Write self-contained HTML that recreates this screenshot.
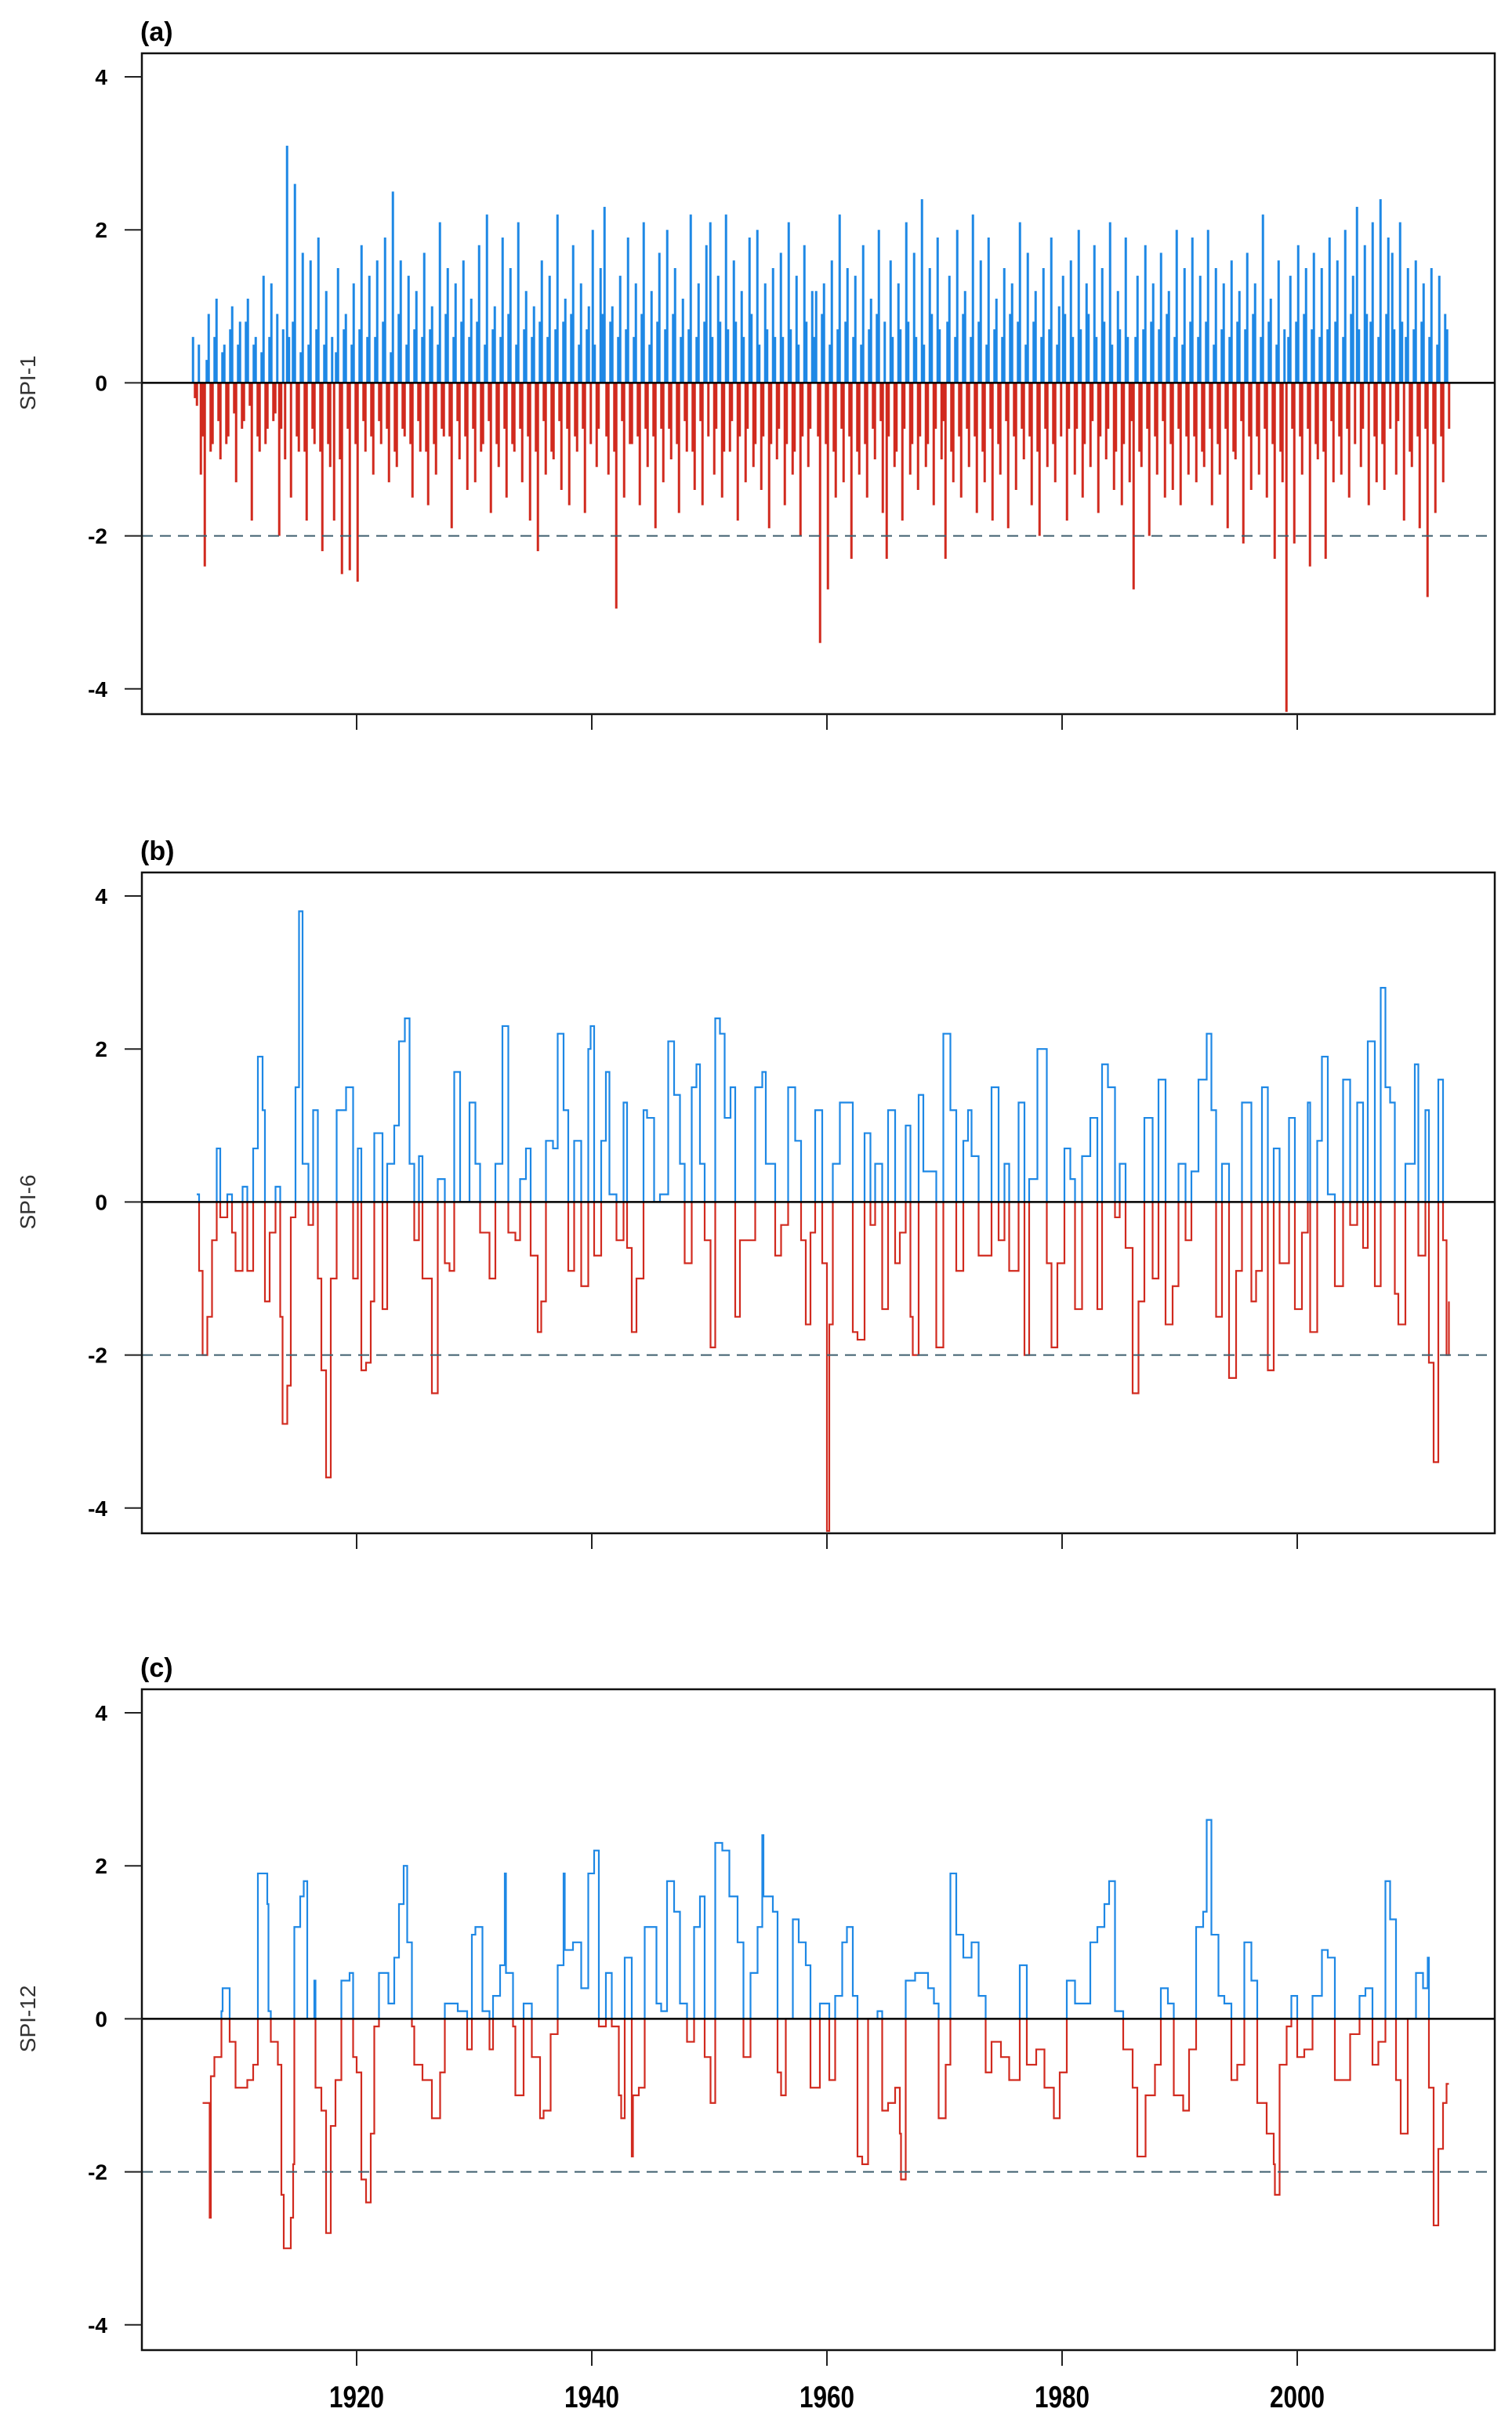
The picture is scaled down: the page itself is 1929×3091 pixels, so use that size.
<!DOCTYPE html>
<html><head><meta charset="utf-8">
<style>
html,body{margin:0;padding:0;background:#fff;}
svg{display:block;font-family:"Liberation Sans",Arial,sans-serif;}
</style></head>
<body>
<svg id="chart" width="1929" height="3091" viewBox="0 0 1929 3091" xmlns="http://www.w3.org/2000/svg"></svg>
<script>
// ---------- data ----------
const yTicks = [4, 2, 0, -2, -4];
const xTicks = [1920, 1940, 1960, 1980, 2000];
const panelLabels = ["(a)", "(b)", "(c)"];
const axisTitles = ["SPI-1", "SPI-6", "SPI-12"];

// SPI-1: three values per year starting 1906.0 (main samples)
const spi1Start = 1906.0;
const spi1Values = [
0.6,-0.3,-1.2, -2.4,0.9,-0.8, 1.1,-1.0,0.5, -0.7,1.0,-1.3, 0.8,-0.5,1.1,
-1.8,0.6,-0.9, 1.4,-0.6,1.3, -0.4,-2.0,0.7, 3.1,-1.5,2.6, -0.9,1.7,-1.8,
1.6,-0.8,1.9, -2.2,1.2,-1.1, -1.8,1.5,-2.5, 0.9,-2.45,1.3, -2.6,1.8,-0.9,
1.4,-1.2,1.6, -0.8,1.9,-1.3, 2.5,-1.1,1.6, -0.7,1.4,-1.5, 1.2,-0.9,1.7,
-1.6,1.0,-1.2, 2.1,-0.7,1.5, -1.9,1.3,-1.0, 1.6,-1.4,1.1, -1.3,1.8,-0.8,
2.2,-1.7,1.0, -1.1,1.9,-1.5, 1.5,-0.9,2.1, -1.3,1.2,-1.8, 1.0,-2.2,1.6,
-1.2,1.4,-1.0, 2.2,-1.4,1.1, -1.6,1.8,-0.9, 1.3,-1.7,1.0, 2.0,-1.1,1.5,
2.3,-1.2,1.0, -2.95,1.4,-1.5, 1.9,-0.8,1.3, -1.6,2.1,-1.1, 1.2,-1.9,1.7,
-1.3,2.0,-1.0, 1.5,-1.7,1.1, -0.9,2.2,-1.4, 1.3,-1.6,1.8, 2.1,-1.2,1.4,
-1.5,2.2,-0.9, 1.6,-1.8,1.2, -1.3,1.9,-1.1, 2.0,-1.4,1.3, -1.9,1.5,-1.0,
1.7,-1.6,2.1, -1.2,1.4,-2.0, 1.8,-1.1,1.2, 1.2,-3.4,1.3, -2.7,1.6,-1.5,
2.2,-1.3,1.5, -2.3,1.4,-1.2, 1.8,-1.5,1.1, -1.0,2.0,-1.7, -2.3,1.6,-1.1,
1.3,-1.8,2.1, -1.2,1.7,-1.4, 2.4,-1.1,1.5, -1.6,1.9,-1.0, -2.3,1.4,-1.3,
2.0,-1.5,1.2, -1.1,2.2,-1.7, 1.6,-1.3,1.9, -1.8,1.1,-1.2, 1.5,-1.9,1.3,
-1.4,2.1,-1.0, 1.7,-1.6,1.2, -2.0,1.5,-1.1, 1.9,-1.3,1.0, 1.4,-1.8,1.6,
-1.2,2.0,-1.5, 1.3,-1.1,1.8, -1.7,1.5,-1.0, 2.1,-1.4,1.2, -1.6,1.9,-1.3,
-2.7,1.4,-1.1, 1.8,-2.0,1.3, -1.2,1.7,-1.5, 1.2,-1.4,2.0, -1.6,1.5,-1.2,
1.9,-1.3,1.4, -1.1,2.0,-1.6, 1.5,-1.2,1.3, -1.9,1.6,-1.0, 1.2,-2.1,1.7,
-1.4,1.3,-1.2, 2.2,-1.5,1.1, -2.3,1.6,-1.3, -4.3,1.4,-2.1, 1.8,-1.2,1.5,
-2.4,1.7,-1.0, 1.5,-2.3,1.9, -1.3,1.6,-1.2, 2.0,-1.5,1.4, 2.3,-1.1,1.8,
-1.6,2.1,-1.3, 2.4,-1.4,1.9, 1.7,-1.2,2.1, -1.8,1.5,-1.1, 1.6,-1.9,1.3,
-2.8,1.5,-1.7, 1.4,-1.3,0.7
];
// SPI-1: in-between samples (moderate months), three per year
const spi1Between = [
-0.2,0.5,-0.7, 0.3,-0.9,0.6, -0.5,0.4,-0.8, 0.7,-0.4,0.5, -0.6,0.8,-0.3,
0.5,-0.7,0.4, -0.8,0.6,-0.5, 0.9,-0.6,-1.0, 0.6,0.8,-0.7, 0.4,-0.9,0.5,
-0.6,0.7,-0.9, 0.5,-0.8,0.6, 0.4,-1.0,0.7, -0.6,0.5,-0.8, 0.7,-0.5,0.6,
-0.7,0.6,-0.5, 0.8,-0.6,0.4, -0.9,0.9,-0.6, 0.5,-0.8,0.7, -0.5,0.6,-0.9,
0.7,-0.8,0.5, -0.6,0.9,-0.7, 0.6,-0.5,0.8, -0.7,0.6,-0.6, 0.8,-0.9,0.5,
-0.5,0.7,-0.8, 0.6,-0.6,0.9, -0.8,0.5,-0.6, 0.7,-0.7,0.6, -0.9,0.8,-0.5,
0.6,-0.9,0.7, -0.5,0.8,-0.6, 0.9,-0.7,0.5, -0.6,0.7,-0.8, 0.5,-0.6,0.9,
-0.7,0.8,-0.9, 0.6,-0.5,0.7, -0.8,0.6,-0.7, 0.9,-0.6,0.5, -0.7,0.8,-0.6,
0.7,-0.6,0.9, -0.8,0.6,-0.5, 0.7,-0.9,0.6, -0.5,0.8,-0.7, 0.6,-0.6,0.8,
-0.9,0.7,-0.5, 0.8,-0.7,0.6, -0.6,0.9,-0.8, 0.5,-0.7,0.7, -0.8,0.6,-0.6,
0.6,-0.8,0.7, -0.9,0.5,-0.7, 0.8,-0.6,0.6, -0.7,0.9,-0.8, 0.5,-0.9,0.7,
-0.6,0.8,-0.7, 0.6,-0.9,0.5, -0.8,0.7,-0.6, 0.9,-0.5,0.8, -0.7,0.6,-0.9,
0.7,-0.6,0.8, -0.8,0.6,-0.7, 0.5,-0.8,0.9, -0.6,0.7,-0.5, 0.8,-0.9,0.6,
-0.7,0.9,-0.6, 0.6,-0.7,0.8, -0.9,0.5,-0.6, 0.7,-0.8,0.6, -0.5,0.9,-0.7,
0.8,-0.6,0.5, -0.7,0.8,-0.9, 0.6,-0.6,0.7, -0.8,0.5,-0.7, 0.9,-0.6,0.6,
-0.6,0.7,-0.8, 0.9,-0.5,0.6, -0.7,0.8,-0.6, 0.5,-0.9,0.7, -0.8,0.6,-0.5,
0.6,-0.9,0.7, -0.6,0.8,-0.7, 0.7,-0.5,0.9, -0.8,0.6,-0.6, 0.5,-0.7,0.8,
-0.7,0.6,-0.9, 0.8,-0.6,0.5, -0.8,0.7,-0.6, 0.6,-0.9,0.8, -0.5,0.7,-0.7,
0.9,-0.7,0.6, -0.6,0.8,-0.8, 0.5,-0.9,0.7, 0.6,-0.6,0.8, -0.7,0.9,-0.6,
0.7,-0.8,0.6, -0.9,0.7,-0.5, 0.8,-0.7,0.6, -0.6,0.9,-0.8, 0.7,-0.6,0.9,
0.8,-0.7,0.6, -0.8,0.9,-0.6, 0.7,-0.5,0.8, 0.6,-0.9,0.7, -0.7,0.8,-0.6,
0.6,-0.8,0.5, -0.7,0.9,-0.6
];

// SPI-6 (step series)
const spi6Years = [1906.4,1906.6,1906.9,1907.3,1907.7,1908.1,1908.4,1909.0,1909.4,1909.7,1910.3,1910.7,1911.2,1911.6,1912.0,1912.2,1912.6,1913.1,1913.5,1913.7,1914.1,1914.4,1914.8,1915.1,1915.4,1915.9,1916.3,1916.7,1917.0,1917.4,1917.8,1918.3,1919.1,1919.7,1920.1,1920.4,1920.8,1921.2,1921.5,1922.2,1922.6,1923.2,1923.6,1924.1,1924.5,1924.9,1925.3,1925.6,1926.4,1926.9,1927.5,1927.9,1928.3,1928.8,1929.6,1930.1,1930.5,1931.3,1931.8,1932.4,1932.9,1933.5,1933.9,1934.4,1934.8,1935.4,1935.7,1936.1,1936.7,1937.1,1937.6,1938.0,1938.5,1939.1,1939.7,1939.9,1940.2,1940.8,1941.2,1941.5,1942.1,1942.7,1943.0,1943.4,1943.8,1944.4,1944.7,1945.3,1945.8,1946.5,1947.0,1947.5,1947.9,1948.5,1948.9,1949.2,1949.6,1950.1,1950.5,1950.9,1951.3,1951.8,1952.2,1952.6,1953.1,1953.9,1954.5,1954.8,1955.6,1956.1,1956.7,1957.3,1957.8,1958.2,1958.6,1959.0,1959.6,1960.0,1960.2,1960.5,1961.1,1961.7,1962.2,1962.6,1963.2,1963.7,1964.1,1964.7,1965.2,1965.8,1966.2,1966.7,1967.1,1967.3,1967.8,1968.2,1968.8,1969.3,1969.9,1970.5,1971.0,1971.6,1972.0,1972.3,1972.9,1973.5,1974.0,1974.6,1975.1,1975.5,1976.3,1976.8,1977.2,1977.9,1978.7,1979.1,1979.6,1980.2,1980.7,1981.1,1981.7,1982.4,1983.0,1983.4,1983.9,1984.5,1984.9,1985.4,1986.0,1986.5,1987.0,1987.7,1988.2,1988.8,1989.4,1989.9,1990.5,1991.0,1991.6,1992.3,1992.7,1993.1,1993.6,1994.2,1994.8,1995.3,1996.1,1996.5,1997.0,1997.5,1998.0,1998.5,1999.3,1999.8,2000.4,2000.9,2001.1,2001.7,2002.1,2002.6,2003.2,2003.9,2004.5,2005.1,2005.6,2006.0,2006.6,2007.1,2007.5,2007.9,2008.3,2008.6,2009.2,2010.0,2010.3,2010.9,2011.2,2011.6,2012.0,2012.4,2012.7,2012.9];
const spi6Values = [0.1,-0.9,-2.0,-1.5,-0.5,0.7,-0.2,0.1,-0.4,-0.9,0.2,-0.9,0.7,1.9,1.2,-1.3,-0.4,0.2,-1.5,-2.9,-2.4,-0.2,1.5,3.8,0.5,-0.3,1.2,-1.0,-2.2,-3.6,-1.0,1.2,1.5,-1.0,0.7,-2.2,-2.1,-1.3,0.9,-1.4,0.5,1.0,2.1,2.4,0.5,-0.5,0.6,-1.0,-2.5,0.3,-0.8,-0.9,1.7,0.0,1.3,0.5,-0.4,-1.0,0.5,2.3,-0.4,-0.5,0.3,0.7,-0.7,-1.7,-1.3,0.8,0.7,2.2,1.2,-0.9,0.8,-1.1,2.0,2.3,-0.7,0.8,1.7,0.1,-0.5,1.3,-0.6,-1.7,-1.0,1.2,1.1,0.0,0.1,2.1,1.4,0.5,-0.8,1.5,1.8,0.5,-0.5,-1.9,2.4,2.2,1.1,1.5,-1.5,-0.5,-0.5,1.5,1.7,0.5,-0.7,-0.3,1.5,0.8,-0.5,-1.6,-0.4,1.2,-0.8,-4.3,-1.6,0.5,1.3,1.3,-1.7,-1.8,0.9,-0.3,0.5,-1.4,1.2,-0.8,-0.4,1.0,-1.5,-2.0,1.4,0.4,0.4,-1.9,2.2,1.2,-0.9,0.8,1.2,0.6,-0.7,-0.7,1.5,-0.5,0.5,-0.9,1.3,-2.0,0.3,2.0,-0.8,-1.9,-0.8,0.7,0.3,-1.4,0.6,1.1,-1.4,1.8,1.5,-0.2,0.5,-0.6,-2.5,-1.3,1.1,-1.0,1.6,-1.6,-1.1,0.5,-0.5,0.4,1.6,2.2,1.2,-1.5,0.5,-2.3,-0.9,1.3,-1.3,-0.9,1.5,-2.2,0.7,-0.8,1.1,-1.4,-0.4,1.3,-1.7,0.8,1.9,0.1,-1.1,1.6,-0.3,1.3,-0.6,2.1,-1.1,2.8,1.5,1.3,-1.2,-1.6,0.5,1.8,-0.7,1.2,-2.1,-3.4,1.6,-0.5,-2.0,-1.3];

// SPI-12 (step series)
const spi12Years = [1906.9,1907.5,1907.6,1907.9,1908.5,1908.6,1909.2,1909.7,1910.7,1911.2,1911.6,1912.4,1912.5,1912.7,1913.3,1913.6,1913.8,1914.4,1914.6,1914.7,1915.2,1915.5,1915.8,1916.4,1916.5,1917.0,1917.4,1917.8,1918.2,1918.7,1919.4,1919.7,1920.0,1920.4,1920.8,1921.2,1921.5,1921.9,1922.7,1923.2,1923.6,1924.0,1924.3,1924.7,1924.9,1925.6,1926.4,1927.1,1927.5,1928.6,1929.4,1929.8,1930.1,1930.7,1931.3,1931.6,1932.2,1932.6,1932.7,1933.3,1933.5,1934.2,1934.9,1935.6,1935.9,1936.5,1937.1,1937.6,1937.7,1938.4,1939.1,1939.7,1940.2,1940.6,1941.2,1941.7,1942.3,1942.5,1942.8,1943.4,1943.5,1944.0,1944.5,1945.1,1945.5,1945.9,1946.4,1947.0,1947.5,1948.1,1948.7,1949.2,1949.6,1950.1,1950.5,1951.1,1951.7,1952.4,1952.9,1953.5,1954.1,1954.5,1954.6,1955.4,1955.8,1956.1,1956.5,1957.1,1957.6,1958.2,1958.6,1959.4,1960.2,1960.7,1961.3,1961.7,1962.2,1962.6,1963.0,1963.5,1964.3,1964.7,1965.2,1965.8,1966.2,1966.3,1966.7,1967.5,1968.2,1968.6,1969.1,1969.5,1970.1,1970.5,1971.0,1971.6,1972.3,1972.9,1973.5,1974.0,1974.8,1975.5,1976.4,1977.0,1977.8,1978.5,1979.3,1979.8,1980.4,1981.1,1981.9,1982.4,1983.0,1983.6,1984.0,1984.5,1985.2,1986.0,1986.4,1987.1,1987.9,1988.4,1989.0,1989.5,1990.3,1990.8,1991.4,1992.0,1992.3,1992.7,1993.3,1993.8,1994.4,1994.9,1995.5,1996.1,1996.6,1997.4,1998.0,1998.1,1998.5,1999.1,1999.5,2000.0,2000.6,2001.3,2002.1,2002.6,2003.2,2003.9,2004.5,2005.3,2005.8,2006.4,2006.9,2007.5,2007.9,2008.4,2008.8,2009.4,2010.1,2010.7,2011.1,2011.2,2011.6,2012.0,2012.4,2012.7,2012.9];
const spi12Values = [-1.1,-2.6,-0.75,-0.5,0.1,0.4,-0.3,-0.9,-0.8,-0.6,1.9,1.5,0.1,-0.3,-0.6,-2.3,-3.0,-2.6,-1.9,1.2,1.6,1.8,0.0,0.5,-0.9,-1.2,-2.8,-1.4,-0.8,0.5,0.6,-0.5,-0.7,-2.1,-2.4,-1.5,-0.1,0.6,0.2,0.8,1.5,2.0,1.0,-0.1,-0.6,-0.8,-1.3,-0.7,0.2,0.1,-0.4,1.1,1.2,0.1,-0.4,0.3,0.7,1.9,0.6,-0.1,-1.0,0.2,-0.5,-1.3,-1.2,-0.2,0.7,1.9,0.9,1.0,0.4,1.9,2.2,-0.1,0.6,-0.1,-1.0,-1.3,0.8,-1.8,-1.0,-0.9,1.2,1.2,0.2,0.1,1.8,1.4,0.2,-0.3,1.2,1.6,-0.5,-1.1,2.3,2.2,1.6,1.0,-0.5,0.6,1.2,2.4,1.6,1.4,-0.7,-1.0,0.0,1.3,1.0,0.7,-0.9,0.2,-0.8,0.3,1.0,1.2,0.3,-1.8,-1.9,0.0,0.1,-1.2,-1.1,-0.9,-1.5,-2.1,0.5,0.6,0.6,0.4,0.2,-1.3,-0.6,1.9,1.1,0.8,1.0,0.3,-0.7,-0.3,-0.5,-0.8,0.7,-0.6,-0.4,-0.9,-1.3,-0.7,0.5,0.2,0.2,1.0,1.2,1.5,1.8,0.1,-0.4,-0.9,-1.8,-1.0,-0.6,0.4,0.2,-1.0,-1.2,-0.4,1.2,1.4,2.6,1.1,0.3,0.2,-0.8,-0.6,1.0,0.5,-1.1,-1.5,-1.9,-2.3,-0.6,-0.1,0.3,-0.5,-0.4,0.3,0.9,0.8,-0.8,-0.8,-0.2,0.3,0.4,-0.6,-0.3,1.8,1.3,-0.8,-1.5,0.0,0.6,0.4,0.8,-0.9,-2.7,-1.7,-1.1,-0.85,-0.85];

// ---------- layout ----------
const NS = "http://www.w3.org/2000/svg";
const svg = document.getElementById("chart");
const L = 181, R = 1907;
const panelTops = [68, 1113, 2155];
const UNIT = 97.6;
const BLUE = "#1e88e5", RED = "#d12a1f";
function xOf(yr){ return 455 + (yr - 1920) * 15; }
function yOf(top, v){ return top + 30 + (4 - v) * UNIT; }
function mk(tag, attrs, parent){
  const e = document.createElementNS(NS, tag);
  for (const k in attrs) e.setAttribute(k, attrs[k]);
  (parent || svg).appendChild(e);
  return e;
}

panelTops.forEach((T, p) => {
  const g = mk("g", {});
  
  
  const B = T + 843;
  const y0 = yOf(T, 0);
  const defs = mk("defs", {}, g);
  const cpA = mk("clipPath", {id: "above" + p}, defs);
  mk("rect", {x: L, y: T, width: R - L, height: y0 - T}, cpA);
  const cpB = mk("clipPath", {id: "below" + p}, defs);
  mk("rect", {x: L, y: y0, width: R - L, height: B - y0}, cpB);

  if (p === 0) {
    const drawBar = (yr, v) => {
      const x = xOf(yr);
      const bar = mk("line", {x1: x, x2: x, y1: y0, y2: yOf(T, v), stroke: v >= 0 ? BLUE : RED, "stroke-width": 3}, g);
      
      
    };
    spi1Between.forEach((v, i) => drawBar(spi1Start + i / 3 + 1/4, v));
    spi1Values.forEach((v, i) => drawBar(spi1Start + i / 3 + 1/12, v));
  } else {
    const yrs = p === 1 ? spi6Years : spi12Years;
    const vals = p === 1 ? spi6Values : spi12Values;
    let d = "";
    vals.forEach((v, i) => {
      const x = xOf(yrs[i]);
      const y = yOf(T, v);
      if (i === 0) d += "M" + x + " " + y;
      else d += " H" + x + " V" + y;
    });
    ["above", "below"].forEach(side => {
      const path = mk("path", {d: d, fill: "none", stroke: side === "above" ? BLUE : RED, "stroke-width": 2.2, "clip-path": "url(#" + side + p + ")"}, g);
      
      
    });
  }

  const zl = mk("line", {x1: L, x2: R, y1: y0, y2: y0, stroke: "#000", "stroke-width": 2.5}, g);
  
  
  const dl = mk("line", {x1: L, x2: R, y1: yOf(T, -2), y2: yOf(T, -2), stroke: "#3f5f6f", "stroke-width": 2, "stroke-dasharray": "14 9"}, g);
  
  

  const fr = mk("rect", {x: L, y: T, width: R - L, height: B - T, fill: "none", stroke: "#111", "stroke-width": 2.5}, g);
  
  

  yTicks.forEach(t => {
    const y = yOf(T, t);
    const tk = mk("line", {x1: 159, x2: L, y1: y, y2: y, stroke: "#222", "stroke-width": 2}, g);
    
    
    const tl = mk("text", {x: 137, y: y + 10, "text-anchor": "end", "font-size": 28, "font-weight": "bold", fill: "#000"}, g);
    tl.textContent = String(t);
    
    
  });
  xTicks.forEach(t => {
    const x = xOf(t);
    const tk = mk("line", {x1: x, x2: x, y1: B, y2: B + 20, stroke: "#222", "stroke-width": 2}, g);
    
    
  });
  const pl = mk("text", {x: 179, y: T - 16, "font-size": 34, "font-weight": "bold", fill: "#000"}, g);
  pl.textContent = panelLabels[p];
  
  
  const at = mk("text", {x: 0, y: 0, "font-size": 28, fill: "#333", "text-anchor": "middle",
    transform: "translate(45," + y0 + ") rotate(-90)"}, g);
  at.textContent = axisTitles[p];
  
  

  if (p === 2) {
    xTicks.forEach(t => {
      const x = xOf(t);
      const xl = mk("text", {x: 0, y: 0, "font-size": 30, "font-weight": "bold", fill: "#000", "text-anchor": "middle",
        transform: "translate(" + x + ",3071) scale(1.05,1.3)"}, g);
      xl.textContent = String(t);
      
      
    });
  }
});
</script>
</body></html>
